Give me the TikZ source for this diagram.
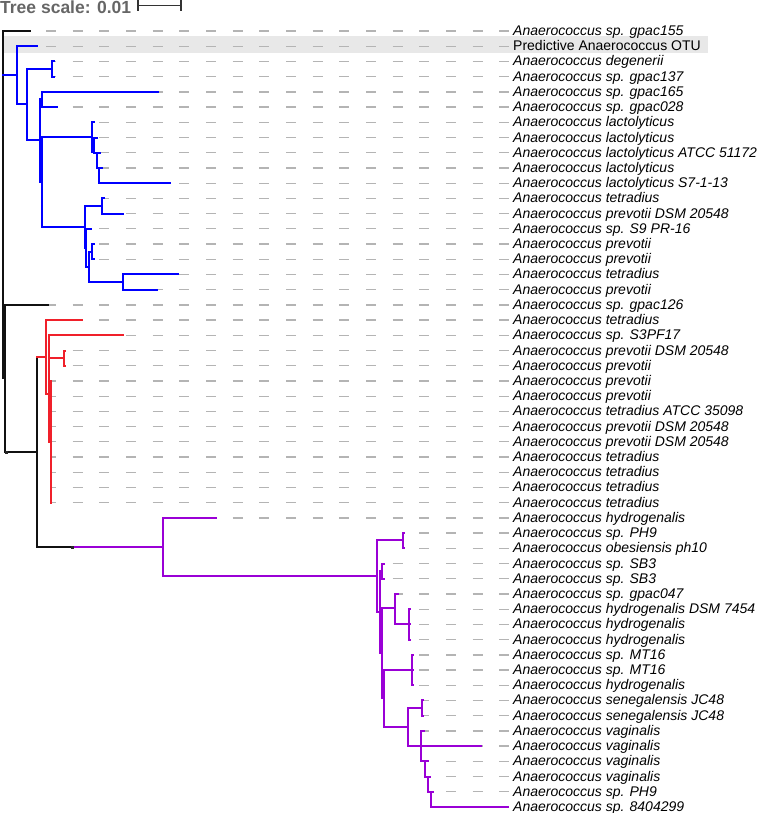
\documentclass[tikz,border=0pt]{standalone}
\usepackage{fontspec}
\setmainfont{Liberation Sans}
\definecolor{cblue}{HTML}{0000FF}
\definecolor{cred}{HTML}{F0202A}
\definecolor{cpurp}{HTML}{9A00D6}
\definecolor{cblack}{HTML}{111111}
\definecolor{dashgray}{HTML}{B4B4B4}
\definecolor{bandgray}{HTML}{E8E8E8}
\definecolor{scalegray}{HTML}{666666}
\newcommand\br[4]{\draw[branch,#1] (#3) -- (#3 |- #4); \draw[branch,#2] (#3 |- #4) -- (#4);}
\begin{document}
\begin{tikzpicture}[x=1pt,y=-1pt,
  branch/.style={line width=2pt,line cap=rect},
  leafdash/.style={dashgray,line width=1.3pt,dash pattern=on 10pt off 16.6667pt},
  leaflabel/.style={anchor=base west,inner sep=0pt,font=\fontsize{14}{16}\selectfont},
  dotmark/.style={fill=black!85}]
\useasboundingbox (0,0) rectangle (761,813);
% highlight band
\fill[bandgray] (3,36.5) rectangle (708,53);
% scale
\node[anchor=base west,inner sep=0pt,text=scalegray,font=\fontsize{17.5}{20}\selectfont\bfseries] (scaletxt) at (0,13.5) {Tree scale: 0.01};
\coordinate (sbA) at (138,5.5);
\coordinate (sbB) at (181,5.5);
\draw[black!80,line width=1.3pt] (sbA) -- (sbB);
\draw[black!80,line width=1.3pt] ([yshift=-5.5pt]sbA) -- ([yshift=5.5pt]sbA);
\draw[black!80,line width=1.3pt] ([yshift=-5.5pt]sbB) -- ([yshift=5.5pt]sbB);
% leaves
\foreach \i/\tx/\st/\lab in {
1/30/\itshape/{Anaerococcus sp. gpac155},
2/37/\upshape/{Predictive Anaerococcus OTU},
3/53.5/\itshape/{Anaerococcus degenerii},
4/53.5/\itshape/{Anaerococcus sp. gpac137},
5/158/\itshape/{Anaerococcus sp. gpac165},
6/57/\itshape/{Anaerococcus sp. gpac028},
7/94/\itshape/{Anaerococcus lactolyticus},
8/97/\itshape/{Anaerococcus lactolyticus},
9/99.5/\itshape/{Anaerococcus lactolyticus ATCC 51172},
10/101.5/\itshape/{Anaerococcus lactolyticus},
11/170/\itshape/{Anaerococcus lactolyticus S7-1-13},
12/103.5/\itshape/{Anaerococcus tetradius},
13/122.7/\itshape/{Anaerococcus prevotii DSM 20548},
14/91/\itshape/{Anaerococcus sp. S9 PR-16},
15/93.5/\itshape/{Anaerococcus prevotii},
16/93.5/\itshape/{Anaerococcus prevotii},
17/178/\itshape/{Anaerococcus tetradius},
18/156.7/\itshape/{Anaerococcus prevotii},
19/48/\itshape/{Anaerococcus sp. gpac126},
20/82/\itshape/{Anaerococcus tetradius},
21/123.3/\itshape/{Anaerococcus sp. S3PF17},
22/65/\itshape/{Anaerococcus prevotii DSM 20548},
23/65/\itshape/{Anaerococcus prevotii},
24/51/\itshape/{Anaerococcus prevotii},
25/51/\itshape/{Anaerococcus prevotii},
26/51/\itshape/{Anaerococcus tetradius ATCC 35098},
27/51/\itshape/{Anaerococcus prevotii DSM 20548},
28/51/\itshape/{Anaerococcus prevotii DSM 20548},
29/51/\itshape/{Anaerococcus tetradius},
30/51/\itshape/{Anaerococcus tetradius},
31/51/\itshape/{Anaerococcus tetradius},
32/51/\itshape/{Anaerococcus tetradius},
33/216/\itshape/{Anaerococcus hydrogenalis},
34/404/\itshape/{Anaerococcus sp. PH9},
35/404/\itshape/{Anaerococcus obesiensis ph10},
36/383.5/\itshape/{Anaerococcus sp. SB3},
37/383.5/\itshape/{Anaerococcus sp. SB3},
38/398/\itshape/{Anaerococcus sp. gpac047},
39/410/\itshape/{Anaerococcus hydrogenalis DSM 7454},
40/410/\itshape/{Anaerococcus hydrogenalis},
41/410/\itshape/{Anaerococcus hydrogenalis},
42/412.5/\itshape/{Anaerococcus sp. MT16},
43/412.5/\itshape/{Anaerococcus sp. MT16},
44/412.5/\itshape/{Anaerococcus hydrogenalis},
45/423/\itshape/{Anaerococcus senegalensis JC48},
46/423/\itshape/{Anaerococcus senegalensis JC48},
47/424/\itshape/{Anaerococcus vaginalis},
48/481/\itshape/{Anaerococcus vaginalis},
49/428/\itshape/{Anaerococcus vaginalis},
50/430/\itshape/{Anaerococcus vaginalis},
51/433/\itshape/{Anaerococcus sp. PH9},
52/508/\itshape/{Anaerococcus sp. 8404299}}{
  \pgfmathsetmacro\yy{31+(\i-1)*15.2157}
  \pgfmathsetmacro\ph{mod(\tx-46+53.3333,26.6667)}
  \coordinate (l\i) at (\tx,\yy);
  \node[leaflabel] (t\i) at (513,\yy+4.5) {\st\lab};
  \draw[leafdash,dash phase=\ph pt] (l\i) -- (t\i.base west |- l\i);
}
% internal nodes
\coordinate (root) at (2.7,204);
\coordinate (N1) at (5,378);
\coordinate (N2) at (36.5,452);
\coordinate (P0) at (72.7,547);
% blue
\coordinate (B0) at (17.3,75);
\coordinate (B1) at (26.7,104);
\coordinate (B2) at (51.7,69);
\coordinate (B3) at (40,140);
\coordinate (B4) at (41.7,99.5);
\coordinate (B5) at (42,182);
\coordinate (B6) at (91.7,137);
\coordinate (B6a) at (94.2,152);
\coordinate (B6b) at (96.7,152.7);
\coordinate (B6c) at (99.2,167.9);
\coordinate (B7) at (85,226.5);
\coordinate (B8) at (101.7,205.9);
\coordinate (B10) at (86,248);
\coordinate (B11) at (88.5,267);
\coordinate (B12) at (91.7,251.6);
\coordinate (B9) at (123.3,282);
% red
\coordinate (R1) at (45.7,357);
\coordinate (R2) at (49,394);
\coordinate (R4) at (64.3,358);
\coordinate (R3) at (50.5,441.8);
% purple
\coordinate (P1) at (163.3,547);
\coordinate (P2) at (377.3,576);
\coordinate (P3) at (402.5,540.2);
\coordinate (P4) at (380.3,612);
\coordinate (PS) at (382,571.2);
\coordinate (P15) at (382.3,653.3);
\coordinate (P5) at (395,608.3);
\coordinate (P6) at (409.3,624.4);
\coordinate (P16) at (384.3,698.3);
\coordinate (P7) at (411.7,670.1);
\coordinate (P8) at (407.7,726.7);
\coordinate (P9) at (421.7,708.1);
\coordinate (P10) at (421,746.2);
\coordinate (P11) at (424.5,761.4);
\coordinate (P12) at (427.5,776.6);
\coordinate (P13) at (430.5,791.8);
% black backbone
\br{cblack}{cblack}{root}{l1}
\br{cblack}{cblue}{root}{B0}
\br{cblack}{cblack}{root}{N1}
\br{cblack}{cblack}{N1}{l19}
\br{cblack}{cblack}{N1}{N2}
\br{cblack}{cred}{N2}{R1}
\br{cblack}{cblack}{N2}{P0}
\draw[branch,cpurp] (P0) -- (P1);
% blue clade
\br{cblue}{cblue}{B0}{l2}
\br{cblue}{cblue}{B0}{B1}
\br{cblue}{cblue}{B1}{B2}
\br{cblue}{cblue}{B1}{B3}
\br{cblue}{cblue}{B2}{l3}
\br{cblue}{cblue}{B2}{l4}
\br{cblue}{cblue}{B3}{B4}
\br{cblue}{cblue}{B3}{B5}
\br{cblue}{cblue}{B4}{l5}
\br{cblue}{cblue}{B4}{l6}
\br{cblue}{cblue}{B5}{B6}
\br{cblue}{cblue}{B5}{B7}
\br{cblue}{cblue}{B6}{l7}
\br{cblue}{cblue}{B6}{B6a}
\br{cblue}{cblue}{B6a}{l8}
\br{cblue}{cblue}{B6a}{B6b}
\br{cblue}{cblue}{B6b}{l9}
\br{cblue}{cblue}{B6b}{B6c}
\br{cblue}{cblue}{B6c}{l10}
\br{cblue}{cblue}{B6c}{l11}
\br{cblue}{cblue}{B7}{B8}
\br{cblue}{cblue}{B7}{B10}
\br{cblue}{cblue}{B8}{l12}
\br{cblue}{cblue}{B8}{l13}
\br{cblue}{cblue}{B10}{l14}
\br{cblue}{cblue}{B10}{B11}
\br{cblue}{cblue}{B11}{B12}
\br{cblue}{cblue}{B11}{B9}
\br{cblue}{cblue}{B12}{l15}
\br{cblue}{cblue}{B12}{l16}
\br{cblue}{cblue}{B9}{l17}
\br{cblue}{cblue}{B9}{l18}
% red clade
\br{cred}{cred}{R1}{l20}
\br{cred}{cred}{R1}{R2}
\br{cred}{cred}{R2}{l21}
\br{cred}{cred}{R2}{R4}
\br{cred}{cred}{R2}{R3}
\br{cred}{cred}{R4}{l22}
\br{cred}{cred}{R4}{l23}
\foreach \k in {24,...,32}{\br{cred}{cred}{R3}{l\k}}
% purple clade
\br{cpurp}{cpurp}{P1}{l33}
\br{cpurp}{cpurp}{P1}{P2}
\br{cpurp}{cpurp}{P2}{P3}
\br{cpurp}{cpurp}{P2}{P4}
\br{cpurp}{cpurp}{P3}{l34}
\br{cpurp}{cpurp}{P3}{l35}
\br{cpurp}{cpurp}{P4}{PS}
\br{cpurp}{cpurp}{P4}{P15}
\br{cpurp}{cpurp}{PS}{l36}
\br{cpurp}{cpurp}{PS}{l37}
\br{cpurp}{cpurp}{P15}{P5}
\br{cpurp}{cpurp}{P15}{P16}
\br{cpurp}{cpurp}{P5}{l38}
\br{cpurp}{cpurp}{P5}{P6}
\br{cpurp}{cpurp}{P6}{l39}
\br{cpurp}{cpurp}{P6}{l40}
\br{cpurp}{cpurp}{P6}{l41}
\br{cpurp}{cpurp}{P16}{P7}
\br{cpurp}{cpurp}{P16}{P8}
\br{cpurp}{cpurp}{P7}{l42}
\br{cpurp}{cpurp}{P7}{l43}
\br{cpurp}{cpurp}{P7}{l44}
\br{cpurp}{cpurp}{P8}{P9}
\br{cpurp}{cpurp}{P8}{P10}
\br{cpurp}{cpurp}{P9}{l45}
\br{cpurp}{cpurp}{P9}{l46}
\br{cpurp}{cpurp}{P10}{l47}
\br{cpurp}{cpurp}{P10}{l48}
\br{cpurp}{cpurp}{P10}{P11}
\br{cpurp}{cpurp}{P11}{l49}
\br{cpurp}{cpurp}{P11}{P12}
\br{cpurp}{cpurp}{P12}{l50}
\br{cpurp}{cpurp}{P12}{P13}
\br{cpurp}{cpurp}{P13}{l51}
\br{cpurp}{cpurp}{P13}{l52}
% node markers
\fill[dotmark] ([shift={(-0.5,-1.5)}]N1 |- N2) rectangle ([shift={(2.5,1.5)}]N1 |- N2);
\fill[dotmark] ([shift={(-1.5,-1.5)}]P0) rectangle ([shift={(1.5,1.5)}]P0);
\end{tikzpicture}
\end{document}
